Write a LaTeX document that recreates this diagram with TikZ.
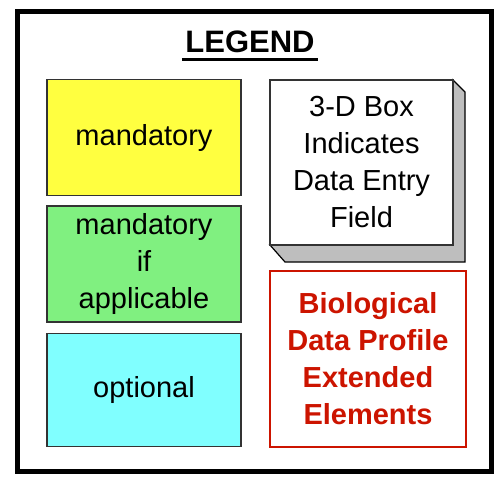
\documentclass[tikz,border=0pt]{standalone}
\usepackage{fontspec}
\setmainfont{Liberation Sans}
\usepackage{tikz}
\usetikzlibrary{positioning}
\definecolor{LegYellow}{RGB}{255,255,64}
\definecolor{LegGreen}{RGB}{128,240,128}
\definecolor{LegCyan}{RGB}{128,255,255}
\definecolor{LegRed}{RGB}{204,20,0}
\definecolor{BevelGray}{RGB}{190,190,190}
\tikzset{
  keybox/.style={draw=black!80,line width=1.2pt,minimum width=194pt,align=center,
    font=\fontsize{29}{37}\selectfont,inner sep=0pt},
}

\begin{document}
\begin{tikzpicture}[x=1pt,y=-1pt]
\useasboundingbox (0,0) rectangle (497,477);
\draw[line width=5pt] (17.5,11.5) rectangle (491.5,471.5);
\node[font=\fontsize{31}{31}\selectfont\bfseries] (title) at (250,42) {LEGEND};
\draw[line width=2.5pt] ([yshift=-3pt]title.south west) -- ([yshift=-3pt]title.south east);
% left column
\node[keybox,fill=LegYellow,minimum height=116pt] (mand) at (144,137.5) {mandatory};
\node[keybox,fill=LegGreen,minimum height=116pt] (mandif) at (144,264) {mandatory\\if\\applicable};
\node[keybox,fill=LegCyan,minimum height=113pt] (opt) at (144,390) {optional};
% right column
\fill[BevelGray,draw=black,line width=1.2pt] (453,80) -- (465,92) -- (465,262) -- (285,262) -- (270,245) -- (453,245) -- cycle;
\node[keybox,fill=white,minimum width=183pt,minimum height=165pt] (entry) at (361.5,162.5) {3-D Box\\Indicates\\Data Entry\\Field};
\node[keybox,draw=LegRed,text=LegRed,font=\fontsize{29}{37}\selectfont\bfseries,minimum width=196pt,minimum height=176pt] (bdp) at (368,359) {Biological\\Data Profile\\Extended\\Elements};
\end{tikzpicture}
\end{document}
